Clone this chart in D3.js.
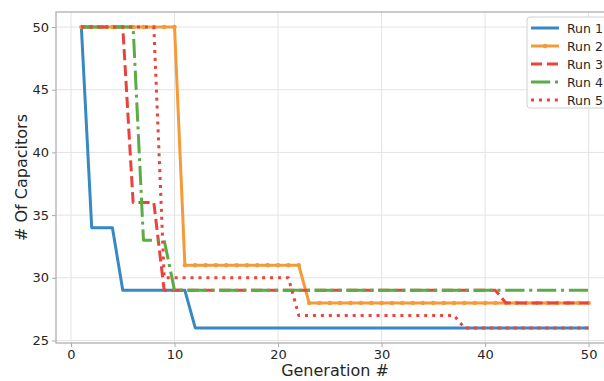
<!DOCTYPE html>
<html>
<head>
<meta charset="utf-8">
<script src="https://cdn.jsdelivr.net/npm/d3@7"></script>
<style>
  body { margin: 0; background: #fff; }
  svg { display: block; font-family: "DejaVu Sans", sans-serif; }
</style>
</head>
<body>
<svg id="chart" width="604" height="381"></svg>
<script>
// ---- data ----
const generations = d3.range(1, 51);
const seriesNames = ["Run 1", "Run 2", "Run 3", "Run 4", "Run 5"];
const run1 = [50,34,34,34,29,29,29,29,29,29,29,26,26,26,26,26,26,26,26,26,26,26,26,26,26,26,26,26,26,26,26,26,26,26,26,26,26,26,26,26,26,26,26,26,26,26,26,26,26,26];
const run2 = [50,50,50,50,50,50,50,50,50,50,31,31,31,31,31,31,31,31,31,31,31,31,28,28,28,28,28,28,28,28,28,28,28,28,28,28,28,28,28,28,28,28,28,28,28,28,28,28,28,28];
const run3 = [50,50,50,50,50,36,36,36,29,29,29,29,29,29,29,29,29,29,29,29,29,29,29,29,29,29,29,29,29,29,29,29,29,29,29,29,29,29,29,29,29,28,28,28,28,28,28,28,28,28];
const run4 = [50,50,50,50,50,50,33,33,33,29,29,29,29,29,29,29,29,29,29,29,29,29,29,29,29,29,29,29,29,29,29,29,29,29,29,29,29,29,29,29,29,29,29,29,29,29,29,29,29,29];
const run5 = [50,50,50,50,50,50,50,50,30,30,30,30,30,30,30,30,30,30,30,30,30,27,27,27,27,27,27,27,27,27,27,27,27,27,27,27,27,26,26,26,26,26,26,26,26,26,26,26,26,26];
const xTicks = [0, 10, 20, 30, 40, 50];
const yTicks = [25, 30, 35, 40, 45, 50];
const xLabel = "Generation #";
const yLabel = "# Of Capacitors";

// ---- styles ----
const colors = ["#3889c2", "#f59a38", "#e8433c", "#5aac44", "#e8433c"];
const dashes = [null, null, "11.1,4.8", "19.2,4.8,3,4.8", "3,4.95"];
const LW = 3;

const svg = d3.select("#chart");
const mLeft = 56, mRight = 614, mTop = 12, mBottom = 343;

const x = d3.scaleLinear().domain([-1.45, 52.45]).range([mLeft, mRight]);
const y = d3.scaleLinear().domain([24.8, 51.2]).range([mBottom, mTop]);

// grid
const grid = svg.append("g");
grid.selectAll("line.vx").data(xTicks).join("line")
  .attr("x1", d => x(d)).attr("x2", d => x(d))
  .attr("y1", mTop).attr("y2", mBottom)
  .attr("stroke", "#e3e3e3").attr("stroke-width", 1);
grid.selectAll("line.hy").data(yTicks).join("line")
  .attr("y1", d => y(d)).attr("y2", d => y(d))
  .attr("x1", mLeft).attr("x2", mRight)
  .attr("stroke", "#e3e3e3").attr("stroke-width", 1);

// axes
const xAxis = svg.append("g").attr("transform", `translate(0,${mBottom})`)
  .call(d3.axisBottom(x).tickValues(xTicks).tickSize(4).tickPadding(3).tickSizeOuter(0));
const yAxis = svg.append("g").attr("transform", `translate(${mLeft},0)`)
  .call(d3.axisLeft(y).tickValues(yTicks).tickSize(4).tickPadding(3).tickSizeOuter(0));
[xAxis, yAxis].forEach(a => {
  a.select(".domain").remove();
  a.selectAll(".tick line").attr("stroke", "#aaaaaa").attr("stroke-width", 1);
  a.selectAll(".tick text").attr("fill", "#262626")
    .style("font-size", "13px").style("font-family", "DejaVu Sans, sans-serif");
});

// spines
svg.append("rect").attr("x", mLeft).attr("y", mTop)
  .attr("width", mRight - mLeft).attr("height", mBottom - mTop)
  .attr("fill", "none").attr("stroke", "#b0b0b0").attr("stroke-width", 1.3);

// lines
const runs = [run1, run2, run3, run4, run5];
const line = d3.line().x((d, i) => x(generations[i])).y(d => y(d));
const plot = svg.append("g");
runs.forEach((r, k) => {
  plot.append("path").datum(r)
    .attr("d", line)
    .attr("fill", "none")
    .attr("stroke", colors[k])
    .attr("stroke-width", LW)
    .attr("stroke-dasharray", dashes[k])
    .attr("stroke-linejoin", "round");
  if (k === 1) {
    plot.selectAll("circle.m2").data(r).join("circle")
      .attr("cx", (d, i) => x(generations[i])).attr("cy", d => y(d))
      .attr("r", 2.2).attr("fill", colors[k]);
  }
});

// axis labels
svg.append("text").attr("x", (mLeft + mRight) / 2).attr("y", 376)
  .attr("text-anchor", "middle").attr("fill", "#262626")
  .style("font-size", "16px").text(xLabel);
svg.append("text")
  .attr("transform", `translate(27,${(mTop + mBottom) / 2}) rotate(-90)`)
  .attr("text-anchor", "middle").attr("fill", "#262626")
  .style("font-size", "16px").text(yLabel);

// legend
const lg = svg.append("g");
lg.append("rect").attr("x", 527).attr("y", 17).attr("width", 80).attr("height", 91)
  .attr("rx", 3).attr("fill", "#fff").attr("fill-opacity", 0.85)
  .attr("stroke", "#d0d0d0").attr("stroke-width", 1);
seriesNames.forEach((name, k) => {
  const ly = 28 + k * 18;
  lg.append("line").attr("x1", 531).attr("x2", 559).attr("y1", ly).attr("y2", ly)
    .attr("stroke", colors[k]).attr("stroke-width", LW)
    .attr("stroke-dasharray", dashes[k]);
  if (k === 1) {
    lg.append("circle").attr("cx", 545).attr("cy", ly).attr("r", 2.2).attr("fill", colors[k]);
  }
  lg.append("text").attr("x", 567).attr("y", ly + 4.5)
    .attr("fill", "#262626").style("font-size", "12.5px").text(name);
});
</script>
</body>
</html>
